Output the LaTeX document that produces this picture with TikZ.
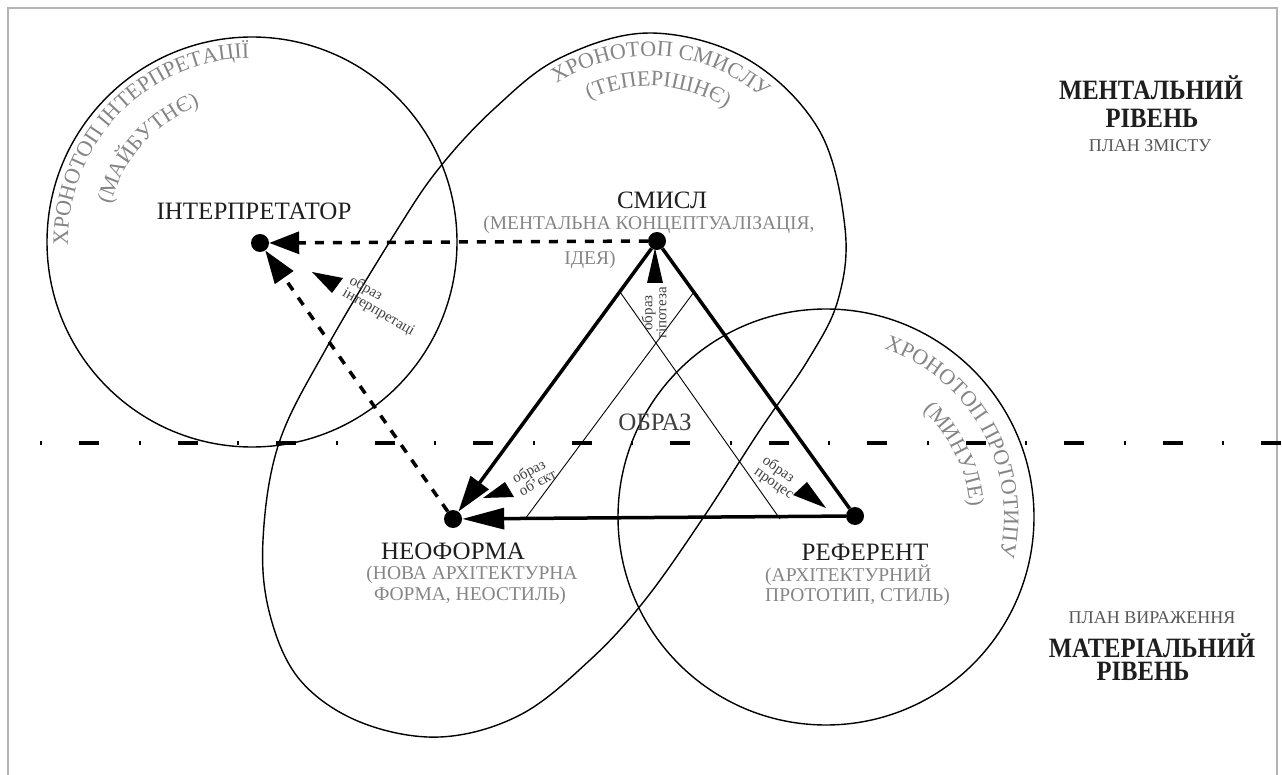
\documentclass[tikz,border=0pt]{standalone}
\usepackage{fontspec}
\setmainfont{Liberation Serif}
\usetikzlibrary{arrows.meta,decorations.text}
\definecolor{txtgray}{HTML}{858585}
\definecolor{darktxt}{HTML}{1E1E1E}
\definecolor{framegray}{HTML}{B4B4B4}
\begin{document}
\begin{tikzpicture}[x=1pt,y=1pt,
  dotnode/.style={circle,fill=black,inner sep=0pt,minimum size=18pt},
  mainlabel/.style={font=\fontsize{25}{25}\selectfont,text=darktxt,inner sep=0pt},
  sublabel/.style={font=\fontsize{19.5}{19.5}\selectfont,text=txtgray,inner sep=0pt},
  smalllabel/.style={font=\fontsize{15}{14}\selectfont,text=darktxt!85,inner sep=0pt,align=left},
  heavy/.style={line width=3.5pt},
  dashline/.style={line width=3.5pt,dash pattern=on 9pt off 9pt},
  thinline/.style={line width=0.9pt},
  contour/.style={line width=1.4pt},
  levelbold/.style={font=\fontsize{28}{28}\selectfont\bfseries,text=darktxt,inner sep=0pt,xscale=0.88},
  plan/.style={font=\fontsize{18}{18}\selectfont,text=darktxt!75,inner sep=0pt},
  curvetext/.style={decorate,decoration={text along path,text align=center}},
]
\useasboundingbox (0,0) rectangle (1282,-775);
% frame
\draw[framegray,line width=1.5pt] (8,-775) -- (8,-8) -- (1277,-8) -- (1277,-775);

% chronotope contours
\draw[contour] (252,-242) circle[radius=205];
\draw[contour] (826,-517) circle[radius=208];
\draw[contour] plot[smooth cycle,tension=0.6] coordinates {(650,-33) (747,-59) (819,-130) (845,-228) (838,-300) (808,-360) (760,-430) (703,-518) (645,-600) (590,-660) (520,-715) (440,-737) (360,-722) (300,-680) (270,-615) (263,-540) (279,-443) (327,-347) (397,-230) (440,-167) (495,-108) (560,-58)};

% curved chronotope labels
\path[curvetext,decoration={text={|\fontsize{22}{22}\selectfont\color{txtgray}|ХРОНОТОП ІНТЕРПРЕТАЦІЇ}}] (252,-242) ++(215:184) arc[start angle=215,end angle=57,radius=184];
\path[curvetext,decoration={text={|\fontsize{22}{22}\selectfont\color{txtgray}|(МАЙБУТНЄ)}}] (252,-242) ++(218:146) arc[start angle=218,end angle=58,radius=146];
\path[curvetext,decoration={text={|\fontsize{22}{22}\selectfont\color{txtgray}|ХРОНОТОП СМИСЛУ}}] (650,-228) ++(166:172) arc[start angle=166,end angle=6,radius=172];
\path[curvetext,decoration={text={|\fontsize{22}{22}\selectfont\color{txtgray}|(ТЕПЕРІШНЄ)}}] (650,-228) ++(166.5:142) arc[start angle=166.5,end angle=6.5,radius=142];
\path[curvetext,decoration={text={|\fontsize{22}{22}\selectfont\color{txtgray}|ХРОНОТОП ПРОТОТИПУ}}] (826,-517) ++(109:178) arc[start angle=109,end angle=-51,radius=178];
\path[curvetext,decoration={text={|\fontsize{22}{22}\selectfont\color{txtgray}|(МИНУЛЕ)}}] (826,-517) ++(106:144) arc[start angle=106,end angle=-54,radius=144];

% level divider
\coordinate (hl) at (40,-443);
\coordinate (hr) at (1282,-443);
\draw[line width=3.5pt,dash pattern=on 2pt off 37pt on 20pt off 39.5pt] (hl) -- (hr);

% nodes
\node[dotnode] (interp) at (260,-243) {};
\node[dotnode] (smysl) at (657,-241) {};
\node[dotnode] (neo) at (453,-519) {};
\node[dotnode] (ref) at (855,-516) {};

% thin inner lines
\coordinate (t1a) at (620,-292);
\coordinate (t1b) at (780,-519);
\coordinate (t2a) at (694,-292);
\coordinate (t2b) at (525,-519);
\draw[thinline] (t1a) -- (t1b);
\draw[thinline] (t2a) -- (t2b);

% connectors
\draw[dashline,-{Triangle[length=30pt,width=22pt]}] (smysl) -- (interp);
\draw[dashline,-{Triangle[length=33pt,width=22pt]}] (neo) -- (interp);
\draw[heavy,-{Triangle[length=36pt,width=22pt]}] (smysl) -- (neo);
\draw[heavy,-{Triangle[length=42pt,width=21pt]}] (ref) -- (neo);
\draw[heavy] (smysl) -- (ref);

% detached image arrowheads
\fill (312,-272) -- (332,-293) -- (343,-278) -- cycle;
\fill (655,-248) -- (647,-283) -- (663,-283) -- cycle;
\fill (483,-498) -- (505,-482) -- (514,-497) -- cycle;
\fill (826,-508) -- (793,-495) -- (807,-482) -- cycle;

% small labels
\node[smalllabel,rotate=-30] (li) at (382,-306) {образ\\інтерпретаці};
\node[smalllabel,rotate=90,align=center] (lh) at (654,-313) {образ\\гіпотеза};
\node[smalllabel,rotate=28] (lo) at (534,-476) {образ\\об’єкт};
\node[smalllabel,rotate=-35] (lp) at (778,-478) {образ\\процес};

% main labels
\node[mainlabel] (tinterp) at (254,-211) {ІНТЕРПРЕТАТОР};
\node[mainlabel] (tsmysl) at (662,-200) {СМИСЛ};
\node[sublabel] (tsmysl1) at (649,-225) {(МЕНТАЛЬНА КОНЦЕПТУАЛІЗАЦІЯ,};
\node[sublabel] (tsmysl2) at (590,-260) {ІДЕЯ)};
\node[mainlabel,text=darktxt!85] (tobraz) at (655,-422) {ОБРАЗ};
\node[mainlabel] (tneo) at (453,-551) {НЕОФОРМА};
\node[sublabel] (tneo1) at (472,-575) {(НОВА АРХІТЕКТУРНА};
\node[sublabel] (tneo2) at (470,-596) {ФОРМА, НЕОСТИЛЬ)};
\node[mainlabel] (tref) at (865,-552) {РЕФЕРЕНТ};
\node[sublabel,anchor=west] (tref1) at (765,-575) {(АРХІТЕКТУРНИЙ};
\node[sublabel,anchor=west] (tref2) at (765,-597) {ПРОТОТИП, СТИЛЬ)};

% levels
\node[levelbold] (ment1) at (1151,-88) {МЕНТАЛЬНИЙ};
\node[levelbold] (ment2) at (1152,-118) {РІВЕНЬ};
\node[plan] (plan1) at (1150,-146) {ПЛАН ЗМІСТУ};
\node[plan] (plan2) at (1152,-618) {ПЛАН ВИРАЖЕННЯ};
\node[levelbold] (mat1) at (1152,-646) {МАТЕРІАЛЬНИЙ};
\node[levelbold] (mat2) at (1143,-671) {РІВЕНЬ};
\end{tikzpicture}
\end{document}
